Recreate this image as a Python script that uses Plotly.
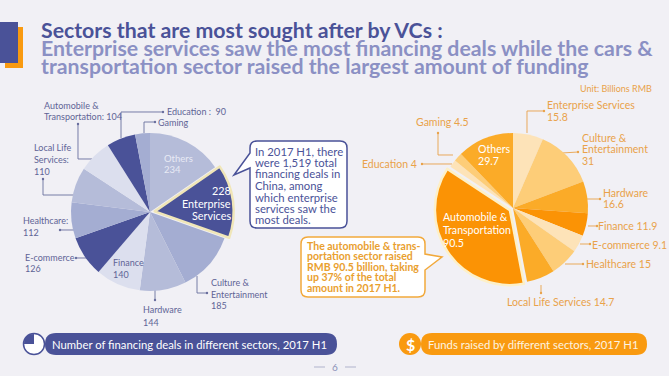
import plotly.graph_objects as go

W, H = 669, 376
INDIGO = "#4a5298"
ORANGE = "#f99a10"
DEEP = "#fb9305"
TXT_O = "#e9a24a"
BG = "#f1f0f5"

deal_sectors = ["Others", "Enterprise Services", "Culture & Entertainment", "Hardware", "Finance",
                "E-commerce", "Healthcare", "Local Life Services", "Automobile & Transportation",
                "Education", "Gaming"]
deal_values = [234, 228, 185, 144, 140, 126, 112, 110, 104, 90, 46]
deal_colors = ["#b5bcd9", INDIGO, "#a4add2", "#b5bcd9", "#dcdfee", INDIGO, "#a4add2", "#b5bcd9",
               "#dcdfee", INDIGO, "#a4add2"]
deal_pull = [0, 0.06, 0, 0, 0, 0, 0, 0, 0, 0, 0]
deal_line = [0, 2.5, 0, 0, 0, 0, 0, 0, 0, 0, 0]

fund_sectors = ["Enterprise Services", "Culture & Entertainment", "Hardware", "Finance", "E-commerce",
                "Healthcare", "Local Life Services", "Automobile & Transportation", "Education",
                "Gaming", "Others"]
fund_values = [15.8, 31, 16.6, 11.9, 9.1, 15, 14.7, 90.5, 4, 4.5, 29.7]
fund_colors = ["#fde3b8", "#fdcd78", "#fbab28", DEEP, "#fde3b8", "#fdcd78", "#fbab28", DEEP,
               "#fde3b8", "#fdcd78", "#fbab28"]
fund_pull = [0, 0, 0, 0, 0, 0, 0, 0.05, 0, 0, 0]
fund_line = [0, 0, 0, 0, 0, 0, 0, 2.5, 0, 0, 0]


def px(x):
    return x / W


def py(y):
    return 1 - y / H


def dom(cx, cy, r, pull):
    s = r * (1 + pull)
    return dict(x=[px(cx - s), px(cx + s)], y=[py(cy + s), py(cy - s)])


fig = go.Figure()
fig.add_trace(go.Pie(labels=deal_sectors, values=deal_values, sort=False, direction="clockwise", rotation=0,
                     pull=deal_pull, textinfo="none", hoverinfo="label+value", showlegend=False,
                     domain=dom(150, 212, 79, 0.06),
                     marker=dict(colors=deal_colors, line=dict(color="#f0e6b8", width=deal_line))))
fig.add_trace(go.Pie(labels=fund_sectors, values=fund_values, sort=False, direction="clockwise", rotation=0,
                     pull=fund_pull, textinfo="none", hoverinfo="label+value", showlegend=False,
                     domain=dom(513, 208, 75, 0.05),
                     marker=dict(colors=fund_colors, line=dict(color="#fdf0c8", width=fund_line))))

shapes, annos = [], []


def P(pts, close=False):
    s = "M " + " L ".join(f"{px(x):.5f},{py(y):.5f}" for x, y in pts)
    return s + (" Z" if close else "")


def rect(x0, y0, x1, y1, color, layer="below"):
    shapes.append(dict(type="rect", xref="paper", yref="paper", x0=px(x0), x1=px(x1), y0=py(y1), y1=py(y0),
                       fillcolor=color, line=dict(width=0), layer=layer))


def circle(cx, cy, r, fill, line=None, width=0):
    shapes.append(dict(type="circle", xref="paper", yref="paper", x0=px(cx - r), x1=px(cx + r), y0=py(cy + r),
                       y1=py(cy - r), fillcolor=fill, line=dict(color=line or fill, width=width), layer="above"))


def rounded(x0, y0, x1, y1, r, fill, line, width, tail=None):
    """tail = (ya, yb, tipx, tipy, side)"""
    c = lambda x, y: f"{px(x):.5f},{py(y):.5f}"
    d = f"M {c(x0 + r, y0)} L {c(x1 - r, y0)} Q {c(x1, y0)} {c(x1, y0 + r)} "
    if tail and tail[4] == "right":
        d += f"L {c(x1, tail[0])} L {c(tail[2], tail[3])} L {c(x1, tail[1])} "
    d += f"L {c(x1, y1 - r)} Q {c(x1, y1)} {c(x1 - r, y1)} L {c(x0 + r, y1)} Q {c(x0, y1)} {c(x0, y1 - r)} "
    if tail and tail[4] == "left":
        d += f"L {c(x0, tail[1])} L {c(tail[2], tail[3])} L {c(x0, tail[0])} "
    d += f"L {c(x0, y0 + r)} Q {c(x0, y0)} {c(x0 + r, y0)} Z"
    shapes.append(dict(type="path", xref="paper", yref="paper", path=d, fillcolor=fill,
                       line=dict(color=line, width=width), layer="above"))


def leader(pts, color):
    shapes.append(dict(type="path", xref="paper", yref="paper", path=P(pts),
                       line=dict(color=color, width=0.9), layer="below"))
    x, y = pts[-1]
    shapes.append(dict(type="circle", xref="paper", yref="paper", x0=px(x - 1.2), x1=px(x + 1.2), y0=py(y + 1.2),
                       y1=py(y - 1.2), fillcolor=color, line=dict(width=0), layer="below"))


def text(x, y, s, color, size, anchor="left", family="Lato", bold=False):
    shift = {"left": -2, "right": 2, "center": 0}[anchor]
    annos.append(dict(xref="paper", yref="paper", x=px(x + shift), y=py(y), text=f"<b>{s}</b>" if bold else s,
                      showarrow=False, xanchor=anchor, yanchor="middle", align=anchor,
                      font=dict(color=color, size=size, family=family)))


# header block
rect(5, 27, 23, 68, ORANGE)
rect(0, 22, 18, 63, INDIGO)
text(41, 30, "Sectors that are most sought after by VCs :", INDIGO, 21.3, bold=True)
text(41, 48, "Enterprise services saw the most financing deals while the cars &", "#8b90c4", 21.3, bold=True)
text(41, 66, "transportation sector raised the largest amount of funding", "#8b90c4", 21.3, bold=True)
text(580, 89, "Unit: Billions RMB", TXT_O, 9)

# left leaders
GR = "#6a6f9e"
for pts in [[(121, 138), (121, 112), (163, 112)], [(144, 133), (144, 122), (155, 122)],
            [(92, 159), (78, 159), (78, 124)], [(74, 195), (43, 195), (43, 179)],
            [(75, 230), (60, 230)], [(88, 258), (76, 258)], [(155, 290), (155, 300)],
            [(197, 276), (197, 293), (207, 293)]]:
    leader(pts, GR)
# right leaders
for pts in [[(527, 133), (527, 111), (544, 111)], [(562, 153), (578, 152)], [(587, 199), (600, 199)],
            [(588, 226), (597, 226)], [(580, 244), (590, 244)], [(565, 264), (583, 264)],
            [(541, 285), (541, 293)], [(453, 155), (438, 155), (438, 133)], [(452, 164), (422, 164)]]:
    leader(pts, TXT_O)

# left labels
LB = "#5f6496"
for x, y, s in [(44, 105, "Automobile &"), (44, 116, "Transportation: 104"), (167, 111, "Education :  90"),
                (158, 122, "Gaming"), (34, 148, "Local Life"), (34, 160, "Services:"), (34, 171, "110"),
                (23, 220, "Healthcare:"), (23, 232, "112"), (25, 257, "E-commerce"), (25, 268, "126"),
                (113, 262, "Finance"), (113, 274, "140"), (143, 309, "Hardware"), (143, 322, "144"),
                (211, 282, "Culture &"), (211, 294, "Entertainment"), (211, 305, "185")]:
    text(x, y, s, LB, 9)
text(164, 158, "Others", "#e8eaf5", 9.5)
text(164, 169, "234", "#e8eaf5", 9.5)
text(231, 190, "228", "white", 10.8, "right")
text(231, 203, "Enterprise", "white", 10.8, "right")
text(231, 215, "Services", "white", 10.8, "right")

# right labels
for x, y, s in [(547, 105, "Enterprise Services"), (547, 117, "15.8"), (582, 138, "Culture &"),
                (582, 149, "Entertainment"), (582, 161, "31"), (603, 193, "Hardware"),
                (603, 204, "16.6"), (598, 226, "Finance 11.9"), (592, 245, "E-commerce 9.1"),
                (586, 264, "Healthcare 15"), (507, 302, "Local Life Services 14.7"),
                (416, 122, "Gaming 4.5"), (362, 164, "Education 4")]:
    text(x, y, s, TXT_O, 10.5)
for x, y, s in [(478, 149, "Others"), (478, 161, "29.7"), (443, 217, "Automobile &"),
                (443, 230, "Transportation"), (443, 243, "90.5")]:
    text(x, y, s, "white", 10.6)

# callouts
rounded(250, 141, 347, 228, 7, "white", INDIGO, 1.5, tail=(153, 168, 234, 175, "left"))
for y, s in zip([151, 162, 173, 185, 197, 208, 219],
                ["In 2017 H1, there", "were 1,519 total", "financing deals in", "China, among",
                 "which enterprise", "services saw the", "most deals."]):
    text(255, y, s, INDIGO, 11.3)
rounded(301, 237, 425, 297, 7, "white", "#f2a93b", 1.5, tail=(254, 270, 442, 257, "right"))
for y, s in zip([246, 256, 267, 277, 288],
                ["The automobile & trans-", "portation sector raised", "RMB 90.5 billion, taking",
                 "up 37% of the total", "amount in 2017 H1."]):
    text(307, y, s, "#e9a02f", 10.5, bold=True)

# bottom pills
rounded(45, 333, 337, 355, 11, INDIGO, INDIGO, 0)
circle(34, 344, 10.5, "white", INDIGO, 1.5)
c = lambda x, y: f"{px(x):.5f},{py(y):.5f}"
shapes.append(dict(type="path", xref="paper", yref="paper", layer="above", fillcolor=INDIGO, line=dict(width=0),
                   path=f"M {c(34, 344)} L {c(34, 334)} Q {c(24, 334)} {c(24, 344)} Z"))
text(52, 344, "Number of financing deals in different sectors, 2017 H1", "white", 11.3)
rounded(421, 333, 647, 355, 11, ORANGE, ORANGE, 0)
circle(410, 344, 11, ORANGE)
text(410, 344, "$", "white", 16, "center", bold=True)
text(428, 344, "Funds raised by different sectors, 2017 H1", "#fdf4e2", 11.3)

text(335, 367, "6", "#8b90b8", 10, "center")
shapes.append(dict(type="line", xref="paper", yref="paper", x0=px(314), x1=px(325), y0=py(367), y1=py(367),
                   line=dict(color="#b0b3cc", width=1)))
shapes.append(dict(type="line", xref="paper", yref="paper", x0=px(345), x1=px(356), y0=py(367), y1=py(367),
                   line=dict(color="#b0b3cc", width=1)))

fig.update_layout(width=W, height=H, autosize=False, margin=dict(l=0, r=0, t=0, b=0), paper_bgcolor=BG,
                  plot_bgcolor=BG, shapes=shapes, annotations=annos, showlegend=False)
fig.write_html("out.html", config={"displayModeBar": False},
               post_script="document.body.style.margin='0';document.body.style.overflow='hidden';document.body.style.background='%s';" % BG)
